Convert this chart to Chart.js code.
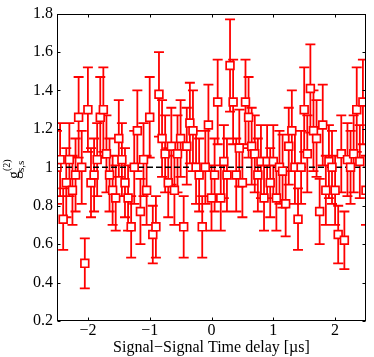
<!DOCTYPE html>
<html><head><meta charset="utf-8">
<script src="https://cdn.jsdelivr.net/npm/chart.js@4/dist/chart.umd.min.js"></script>
<style>html,body{margin:0;padding:0;background:#fff}canvas{display:block}</style>
</head><body>
<canvas id="c" width="374" height="357"></canvas>
<script>
const delays = [-2.5,-2.45,-2.4,-2.35,-2.3,-2.25,-2.2,-2.15,-2.1,-2.05,-2,-1.95,-1.9,-1.85,-1.8,-1.75,-1.7,-1.65,-1.6,-1.55,-1.5,-1.45,-1.4,-1.35,-1.3,-1.25,-1.2,-1.15,-1.1,-1.05,-1,-0.95,-0.9,-0.85,-0.8,-0.75,-0.7,-0.65,-0.6,-0.55,-0.5,-0.45,-0.4,-0.35,-0.3,-0.25,-0.2,-0.15,-0.1,-0.05,0,0.05,0.1,0.15,0.2,0.25,0.3,0.35,0.4,0.45,0.5,0.55,0.6,0.65,0.7,0.75,0.8,0.85,0.9,0.95,1,1.05,1.1,1.15,1.2,1.25,1.3,1.35,1.4,1.45,1.5,1.55,1.6,1.65,1.7,1.75,1.8,1.85,1.9,1.95,2,2.05,2.1,2.15,2.2,2.25,2.3,2.35,2.4,2.45,2.5];
const g2 = [1.00,1.04,0.73,0.92,1.04,0.88,0.96,1.26,1.00,0.50,1.30,0.92,0.96,1.04,1.26,1.30,1.07,0.96,0.88,0.84,1.15,1.04,0.92,0.84,0.69,1.00,1.19,0.77,1.04,0.88,1.26,0.65,0.69,1.38,1.15,1.07,0.92,1.11,0.88,1.07,1.15,0.69,1.11,1.23,1.19,1.00,0.96,0.69,1.00,1.22,0.84,0.96,1.34,0.84,1.03,0.96,1.53,1.34,0.96,1.10,0.92,1.34,1.26,1.11,1.07,0.96,1.03,0.84,1.03,0.92,1.03,0.84,1.00,0.98,0.81,1.11,1.19,1.00,0.73,1.00,1.30,1.07,1.41,1.19,1.15,0.77,1.22,0.88,1.03,1.00,0.88,0.65,1.07,0.62,1.04,1.00,1.07,1.30,1.03,1.34,0.88];
const g2Err = [0.19,0.19,0.16,0.18,0.19,0.18,0.19,0.21,0.19,0.13,0.22,0.18,0.19,0.19,0.21,0.22,0.20,0.19,0.18,0.17,0.20,0.19,0.18,0.17,0.16,0.19,0.21,0.17,0.19,0.18,0.21,0.15,0.16,0.22,0.20,0.20,0.18,0.20,0.18,0.20,0.20,0.16,0.20,0.21,0.21,0.19,0.19,0.16,0.19,0.21,0.17,0.19,0.22,0.17,0.19,0.19,0.24,0.22,0.19,0.20,0.18,0.22,0.21,0.20,0.20,0.19,0.19,0.17,0.19,0.18,0.19,0.17,0.19,0.19,0.17,0.20,0.21,0.19,0.16,0.19,0.22,0.20,0.23,0.21,0.20,0.17,0.21,0.18,0.19,0.19,0.18,0.15,0.20,0.15,0.19,0.19,0.20,0.22,0.19,0.22,0.18];
const xTicks = [-2,-1,0,1,2];
const yTicks = [0.2,0.4,0.6,0.8,1,1.2,1.4,1.6,1.8];
const refLevel = 1;
const xTitle = 'Signal\u2212Signal Time delay [\u00b5s]';
const FONT = '"Liberation Serif","Times New Roman",serif';

const errorBars = {
  id: 'errorBars',
  beforeDatasetsDraw(chart) {
    const {ctx, chartArea: a, scales: {x, y}} = chart;
    ctx.save();
    ctx.beginPath(); ctx.rect(a.left, a.top, a.right - a.left, a.bottom - a.top); ctx.clip();
    ctx.strokeStyle = '#ff0000'; ctx.lineWidth = 1.8;
    ctx.beginPath();
    for (let i = 0; i < delays.length; i++) {
      const px = x.getPixelForValue(delays[i]);
      const lo = y.getPixelForValue(g2[i] - g2Err[i]);
      const hi = y.getPixelForValue(g2[i] + g2Err[i]);
      ctx.moveTo(px, lo); ctx.lineTo(px, hi);
      ctx.moveTo(px - 5, lo); ctx.lineTo(px + 5, lo);
      ctx.moveTo(px - 5, hi); ctx.lineTo(px + 5, hi);
    }
    ctx.stroke();
    ctx.restore();
  }
};

const frame = {
  id: 'frame',
  afterDraw(chart) {
    const {ctx, chartArea: a, scales: {x, y}} = chart;
    ctx.save();
    ctx.strokeStyle = '#000'; ctx.lineWidth = 1;
    const L = Math.round(a.left) + 0.5, R = Math.round(a.right) - 0.5, T = Math.round(a.top) + 0.5, B = Math.round(a.bottom) - 0.5;
    ctx.strokeRect(L, T, R - L, B - T);
    ctx.beginPath();
    const tl = 3;
    xTicks.forEach(v => { const p = Math.round(x.getPixelForValue(v)) + 0.5; ctx.moveTo(p, B); ctx.lineTo(p, B - tl); ctx.moveTo(p, T); ctx.lineTo(p, T + tl); });
    yTicks.forEach(v => { const p = Math.round(y.getPixelForValue(v)) + 0.5; ctx.moveTo(L, p); ctx.lineTo(L + tl, p); ctx.moveTo(R, p); ctx.lineTo(R - tl, p); });
    ctx.stroke();
    // y-axis label g^(2)_{s,s}
    ctx.translate(19, 179); ctx.rotate(-Math.PI / 2);
    ctx.fillStyle = '#000'; ctx.textAlign = 'left'; ctx.textBaseline = 'alphabetic';
    ctx.font = '16px ' + FONT; ctx.fillText('g', 0, 0);
    const w = ctx.measureText('g').width;
    ctx.font = '11px ' + FONT; ctx.fillText('s,s', w - 1, 5);
    ctx.font = '10px ' + FONT; ctx.fillText('(2)', w + 0, -9);
    ctx.restore();
  }
};

new Chart(document.getElementById('c'), {
  data: {
    datasets: [
      {
        type: 'scatter',
        data: delays.map((d, i) => ({x: d, y: g2[i]})),
        pointStyle: 'rect', pointRadius: 5.5, pointHoverRadius: 5.5,
        backgroundColor: '#ffffff', borderColor: '#ff0000', borderWidth: 1.7,
        clip: 0
      },
      {
        type: 'line',
        data: [{x: -2.5, y: refLevel}, {x: 2.5, y: refLevel}],
        borderColor: '#000', borderWidth: 1.5, borderDash: [6, 3],
        pointRadius: 0, fill: false
      }
    ]
  },
  options: {
    responsive: false, animation: false, devicePixelRatio: 1,
    layout: {padding: {top: 12, right: 8, left: 0, bottom: 0}},
    plugins: {legend: {display: false}, tooltip: {enabled: false}},
    scales: {
      x: {
        type: 'linear', min: -2.5, max: 2.5,
        afterBuildTicks: s => { s.ticks = xTicks.map(v => ({value: v})); },
        afterFit: s => { s.height = 36; },
        grid: {display: false, drawTicks: false}, border: {display: false},
        ticks: {color: '#000', font: {family: FONT, size: 16}, padding: 0, maxRotation: 0, autoSkip: false,
          callback: v => v < 0 ? '\u2212' + Math.abs(v) : String(v)},
        title: {display: true, text: xTitle, color: '#000', font: {family: FONT, size: 16}, padding: {top: 0, bottom: 0}}
      },
      y: {
        type: 'linear', min: 0.2, max: 1.8,
        afterBuildTicks: s => { s.ticks = yTicks.map(v => ({value: v})); },
        afterFit: s => { s.width = 57; },
        grid: {display: false, drawTicks: false}, border: {display: false},
        ticks: {color: '#000', font: {family: FONT, size: 16}, padding: 4, autoSkip: false,
          callback: v => String(Math.round(v * 10) / 10)}
      }
    }
  },
  plugins: [errorBars, frame]
});
</script>
</body></html>
